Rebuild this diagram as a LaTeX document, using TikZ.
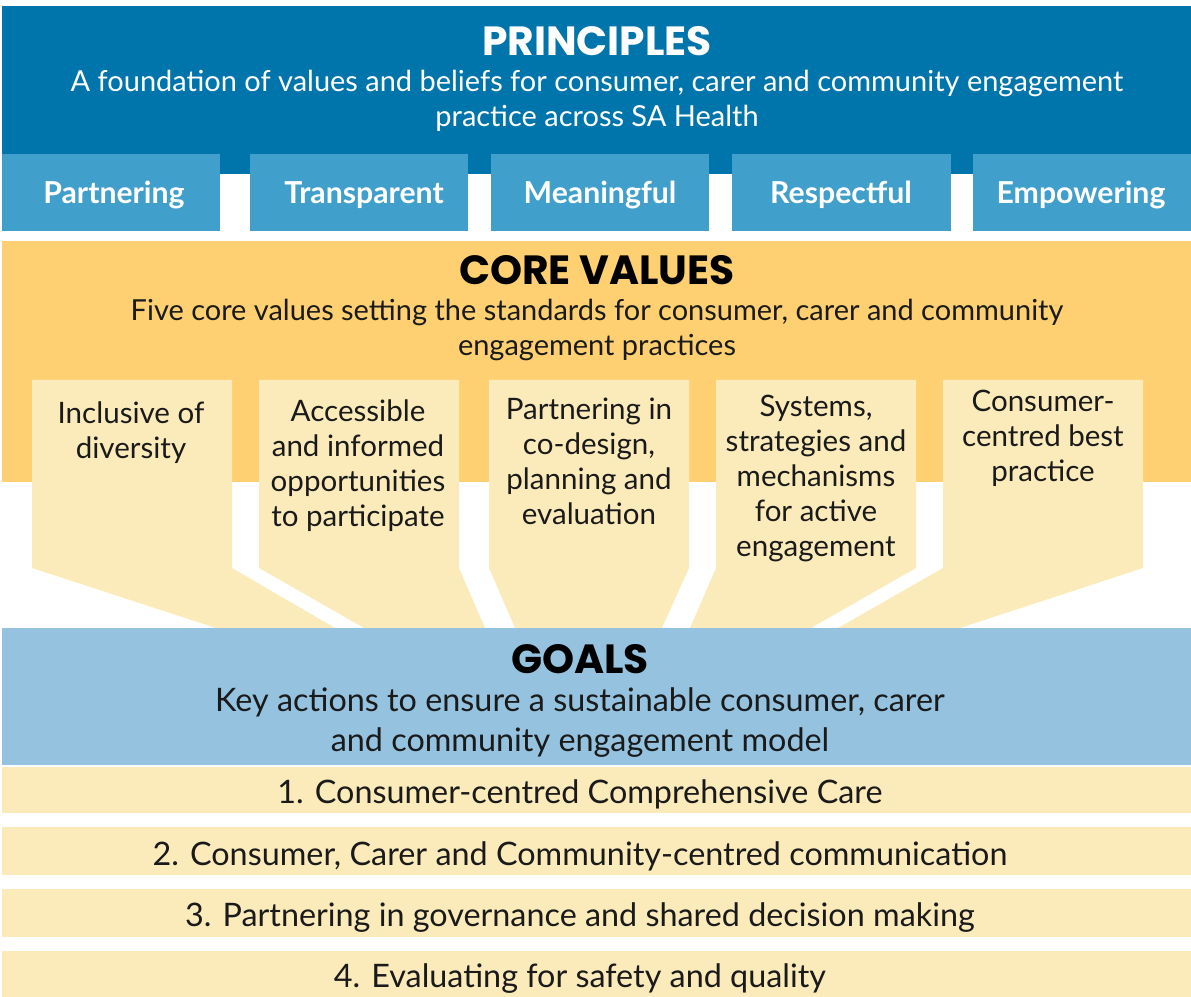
\documentclass[tikz,border=0pt]{standalone}
\usepackage{fontspec}
\setmainfont{Lato}
\newfontfamily\headfont{Poppins}
\usepackage{tikz}
\usetikzlibrary{positioning}
\tikzset{every node/.append style={align=center, inner sep=1pt}}
\definecolor{principlecolor}{RGB}{0, 117, 171}
\definecolor{tilecolor}{RGB}{65, 159, 203}
\definecolor{corecolor}{RGB}{254, 208, 114}
\definecolor{cardcolor}{RGB}{251, 235, 187}
\definecolor{goalcolor}{RGB}{148, 194, 223}
\definecolor{textcolor}{RGB}{26, 26, 26}

\begin{document}
\begin{tikzpicture}[x=0.025cm, y=-0.025cm]
    \useasboundingbox (0, 0) rectangle (1191, 997);
    \tikzset{
        heading/.style={font=\headfont\bfseries\fontsize{29}{31}\selectfont},
        subtitle/.style={font=\fontsize{20.6}{25}\selectfont, text=textcolor},
        tilelabel/.style={font=\bfseries\fontsize{21.5}{24}\selectfont, text=white},
        cardlabel/.style={anchor=north, font=\fontsize{21}{25}\selectfont, text=textcolor},
        goallabel/.style={font=\fontsize{23}{28.5}\selectfont, text=textcolor}
    }

    % Principles
    \fill[principlecolor] (2, 6) rectangle (1191, 174);
    \node[heading, text=white] (principles) at (597, 41) {PRINCIPLES};
    \node[subtitle, text=white] (principlesText) at (597, 101) {A foundation of values and beliefs for consumer, carer and community engagement\\practice across SA Health};

    % Principle tiles
    \fill[tilecolor] (2, 154) rectangle (220, 231);
    \fill[tilecolor] (250, 154) rectangle (468, 231);
    \fill[tilecolor] (491, 154) rectangle (709, 231);
    \fill[tilecolor] (732, 154) rectangle (951, 231);
    \fill[tilecolor] (973, 154) rectangle (1191, 231);
    \node[tilelabel] (partnering) at (114, 195) {Partnering};
    \node[tilelabel] (transparent) at (364, 195) {Transparent};
    \node[tilelabel] (meaningful) at (600, 195) {Meaningful};
    \node[tilelabel] (respectful) at (841, 195) {Respectful};
    \node[tilelabel] (empowering) at (1081, 195) {Empowering};

    % Core values
    \fill[corecolor] (2, 241) rectangle (1191, 482);
    \node[heading, text=black] (coreValues) at (597, 270) {CORE VALUES};
    \node[subtitle] (coreText) at (597, 330) {Five core values setting the standards for consumer, carer and community\\engagement practices};

    % Core value cards
    \fill[cardcolor] (32, 380) -- (232, 380) -- (232, 568) -- (335, 628) -- (216, 628) -- (32, 568) -- cycle;
    \fill[cardcolor] (259, 380) -- (459, 380) -- (459, 568) -- (485, 628) -- (364, 628) -- (259, 568) -- cycle;
    \fill[cardcolor] (489, 380) -- (689, 380) -- (689, 568) -- (662, 628) -- (515, 628) -- (489, 568) -- cycle;
    \fill[cardcolor] (716, 380) -- (916, 380) -- (916, 568) -- (811, 628) -- (690, 628) -- (716, 568) -- cycle;
    \fill[cardcolor] (943, 380) -- (1143, 380) -- (1143, 568) -- (960, 628) -- (838, 628) -- (943, 568) -- cycle;
    \node[cardlabel] (diversity) at (131, 400) {Inclusive of\\diversity};
    \node[cardlabel] (accessible) at (358, 398) {Accessible\\and informed\\opportunities\\to participate};
    \node[cardlabel] (codesign) at (589, 396) {Partnering in\\co-design,\\planning and\\evaluation};
    \node[cardlabel] (systems) at (816, 393) {Systems,\\strategies and\\mechanisms\\for active\\engagement};
    \node[cardlabel] (bestPractice) at (1043, 388) {Consumer-\\centred best\\practice};

    % Goals
    \fill[goalcolor] (2, 628) rectangle (1191, 765);
    \node[heading, text=black] (goals) at (580, 659) {GOALS};
    \node[goallabel] (goalsText) at (580, 723) {Key actions to ensure a sustainable consumer, carer\\and community engagement model};

    % Goal rows
    \fill[cardcolor] (2, 767) rectangle (1191, 813);
    \fill[cardcolor] (2, 827) rectangle (1191, 875);
    \fill[cardcolor] (2, 889) rectangle (1191, 937);
    \fill[cardcolor] (2, 951) rectangle (1191, 997);
    \node[goallabel] (goalOne) at (580, 794) {1. Consumer-centred Comprehensive Care};
    \node[goallabel] (goalTwo) at (580, 856) {2. Consumer, Carer and Community-centred communication};
    \node[goallabel] (goalThree) at (580, 918) {3. Partnering in governance and shared decision making};
    \node[goallabel] (goalFour) at (580, 979) {4. Evaluating for safety and quality};
\end{tikzpicture}
\end{document}
